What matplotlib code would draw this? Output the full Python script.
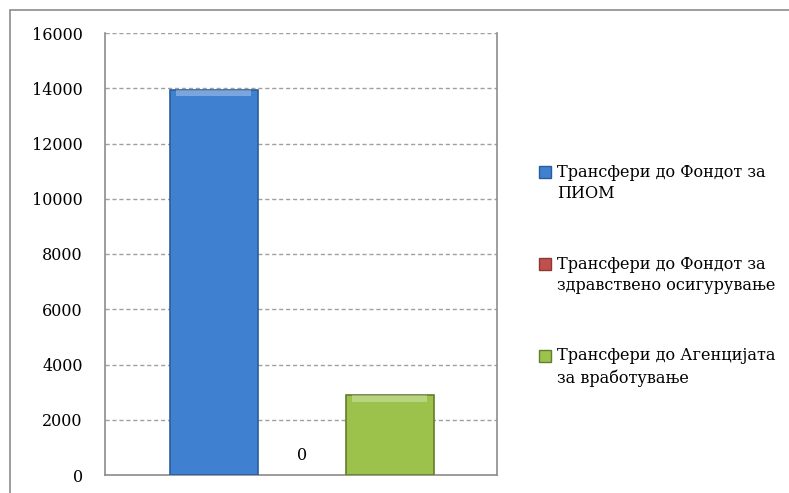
import matplotlib.pyplot as plt
from matplotlib.patches import Rectangle
from matplotlib.container import BarContainer
from matplotlib.legend_handler import HandlerPatch, update_from_first_child

# data
series = ["Трансфери до Фондот за\nПИОМ",
          "Трансфери до Фондот за\nздравствено осигурување",
          "Трансфери до Агенцијата\nза вработување"]
values = [13950, 0, 2900]
colors = ["#4080d0", "#c0504d", "#9cc24c"]
edges = ["#2b5c9a", "#8c3836", "#627d2c"]
yticks = [0, 2000, 4000, 6000, 8000, 10000, 12000, 14000, 16000]

plt.rcParams['font.family'] = ['DejaVu Serif']

fig = plt.figure(figsize=(7.89, 4.93), dpi=100)
ax = fig.add_axes([105 / 789, 18 / 493, 392 / 789, 442 / 493])

# outer chart border
fig.patches.append(Rectangle((10 / 789, -0.1), 1.0, (493 - 10) / 493 + 0.1,
                             transform=fig.transFigure, fill=False,
                             edgecolor="#8c8c8c", linewidth=1.2))

x = list(range(len(values)))
for i, (v, c, e, s) in enumerate(zip(values, colors, edges, series)):
    ax.bar(x[i], v, width=1.0, color=c, edgecolor=e, linewidth=1.2 if v > 0 else 0,
           label=s, zorder=3)
    if v > 0:
        # light bevel at the top of the bar
        ax.bar(x[i], 220, bottom=v - 240, width=0.86, color="white", alpha=0.3,
               linewidth=0, zorder=4)

# only the zero value gets a label
ax.annotate(str(values[1]), (x[1], values[1]), xytext=(0, 8), textcoords="offset points",
            ha="center", va="bottom", fontsize=11.5)

ax.set_ylim(0, 16000)
ax.set_xlim(-1.233, 3.22)
ax.set_yticks(yticks)
ax.set_xticks([])
ax.tick_params(axis="y", length=0, pad=16, labelsize=11.5)
ax.yaxis.grid(True, linestyle=(0, (3, 2)), color="#a0a0a0", linewidth=1, zorder=0)
for sp in ax.spines.values():
    sp.set_color("#8c8c8c")
    sp.set_linewidth(1.2)
ax.spines["top"].set_visible(False)


# legend marker sits next to the first line of the label
def first_line_box(legend, orig_handle, xdescent, ydescent, width, height, fontsize):
    return Rectangle((-xdescent, -ydescent + 8.5), width, height)


handler = HandlerPatch(patch_func=first_line_box, update_func=update_from_first_child)
leg = ax.legend(loc="center left", bbox_to_anchor=(1.07, 0.452), frameon=False,
                handlelength=0.75, handleheight=0.75, handletextpad=0.4,
                labelspacing=3.3, fontsize=11.6,
                handler_map={BarContainer: handler})
for t in leg.get_texts():
    t.set_linespacing(1.35)
for h in leg.legend_handles:
    h.set_linewidth(1.0)

fig.savefig("out.png", dpi=100)
